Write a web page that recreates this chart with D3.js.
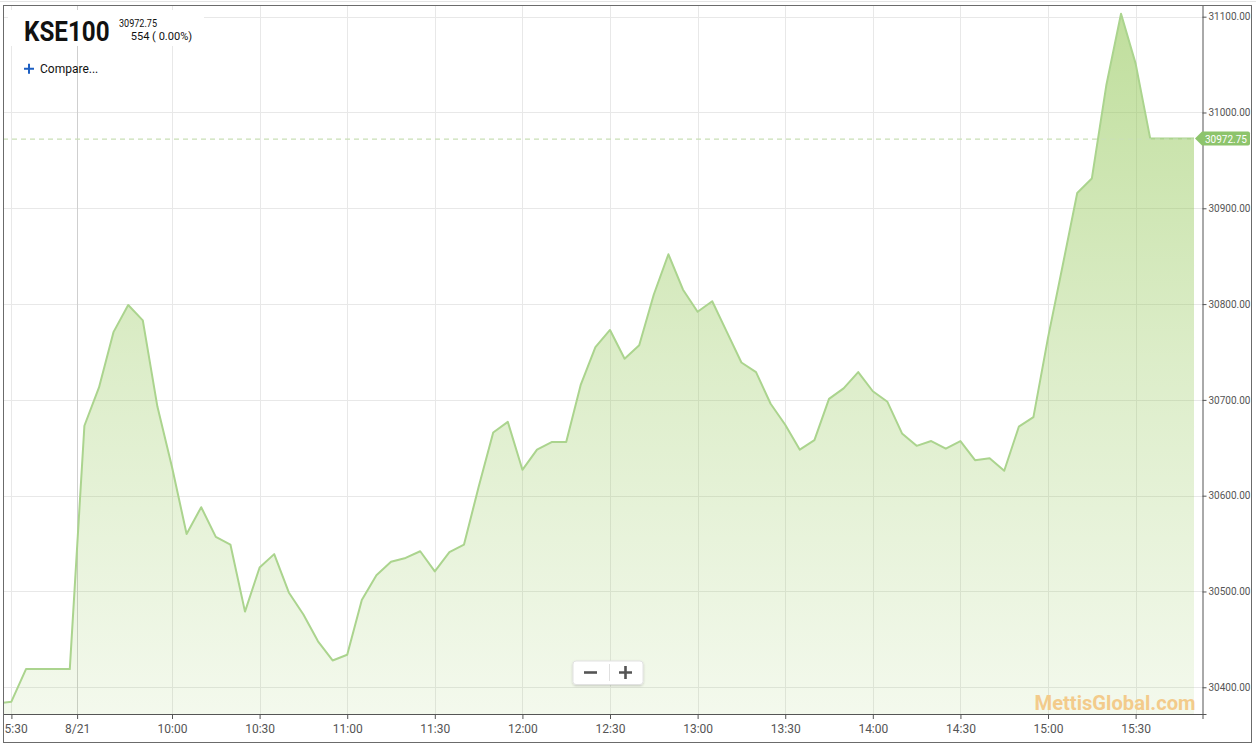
<!DOCTYPE html>
<html>
<head>
<meta charset="utf-8">
<script src="https://cdn.jsdelivr.net/npm/d3@7"></script>
<style>
  html, body { margin: 0; padding: 0; background: #fff; }
  svg { display: block; font-family: Roboto, "Noto Sans", sans-serif; }
</style>
</head>
<body>
<svg id="chart" width="1256" height="747"></svg>
<script>
// ---- data ----
const symbol = "KSE100";
const lastPrice = 30972.75;
const changeText = "554 ( 0.00%)";
// 5-minute closes; first value is the bar before the visible window (prev. day)
const firstIndex = -1;
const closeValues = [
  30383, 30385, 30419, 30419, 30419, 30419,
  30673, 30713, 30771, 30799, 30783, 30693, 30630, 30560, 30588, 30557,
  30549, 30479, 30525, 30539, 30499, 30476, 30448, 30428, 30434, 30491,
  30517, 30531, 30535, 30542, 30521, 30541, 30549, 30609, 30666, 30677,
  30627, 30648, 30656, 30656, 30716, 30755, 30773, 30743, 30757, 30810,
  30852, 30815, 30792, 30803, 30771, 30739, 30729, 30696, 30674, 30648,
  30658, 30701, 30712, 30729, 30709, 30698, 30665, 30652, 30657, 30649,
  30657, 30637, 30639, 30626, 30672, 30682, 30765, 30840, 30916, 30931,
  31029, 31103, 31051, 30972.75, 30972.75, 30972.75, 30972.75
];
const xTickIndex  = [0, 4.5, 11, 17, 23, 29, 35, 41, 47, 53, 59, 65, 71, 77];
// first label is shown cut at the frame edge in the reference ("5:30")
const xTickLabels = ["5:30", "8/21", "10:00", "10:30", "11:00", "11:30", "12:00",
                     "12:30", "13:00", "13:30", "14:00", "14:30", "15:00", "15:30"];
const dayBreakIndex = 4.5;
const yTickValues = [30400, 30500, 30600, 30700, 30800, 30900, 31000, 31100];

// ---- layout ----
const plot = { left: 3, right: 1202.5, top: 5, bottom: 714 };
const svg = d3.select("#chart");

const data = closeValues.map((v, k) => ({ i: firstIndex + k, v }));

const x = d3.scaleLinear().domain([-0.575, 81.58]).range([plot.left, plot.right]);
const y = d3.scaleLinear().domain([30372.1, 31112.2]).range([plot.bottom, plot.top]);

const defs = svg.append("defs");
defs.append("clipPath").attr("id", "plotClip")
  .append("rect").attr("x", plot.left).attr("y", plot.top)
  .attr("width", plot.right - plot.left).attr("height", plot.bottom - plot.top);

const grad = defs.append("linearGradient").attr("id", "areaGrad")
  .attr("gradientUnits", "userSpaceOnUse")
  .attr("x1", 0).attr("x2", 0).attr("y1", plot.top).attr("y2", plot.bottom);
grad.append("stop").attr("offset", 0).attr("stop-color", "#8bc34a").attr("stop-opacity", 0.55);
grad.append("stop").attr("offset", 0.5).attr("stop-color", "#8bc34a").attr("stop-opacity", 0.3);
grad.append("stop").attr("offset", 1).attr("stop-color", "#8bc34a").attr("stop-opacity", 0.1);

const shadow = defs.append("filter").attr("id", "shadow").attr("x", "-20%").attr("y", "-30%")
  .attr("width", "140%").attr("height", "170%");
shadow.append("feDropShadow").attr("dx", 0).attr("dy", 1).attr("stdDeviation", 1.2)
  .attr("flood-color", "#000").attr("flood-opacity", 0.18);

// ---- grid ----
const grid = svg.append("g");
grid.selectAll("line.h").data(yTickValues).join("line")
  .attr("x1", plot.left).attr("x2", plot.right)
  .attr("y1", d => Math.round(y(d)) + 0.5).attr("y2", d => Math.round(y(d)) + 0.5)
  .attr("stroke", "#e8e8e8");
grid.selectAll("line.v").data(xTickIndex).join("line")
  .attr("x1", d => Math.round(x(d)) + 0.5).attr("x2", d => Math.round(x(d)) + 0.5)
  .attr("y1", plot.top).attr("y2", plot.bottom)
  .attr("stroke", d => d === dayBreakIndex ? "#cfcfcf" : "#e8e8e8");

// ---- area + line ----
const series = svg.append("g").attr("clip-path", "url(#plotClip)");
series.append("path").datum(data)
  .attr("fill", "url(#areaGrad)")
  .attr("d", d3.area().x(d => x(d.i)).y0(plot.bottom).y1(d => y(d.v)));
series.append("path").datum(data)
  .attr("fill", "none").attr("stroke", "#abd48e").attr("stroke-width", 2)
  .attr("stroke-linejoin", "round")
  .attr("d", d3.line().x(d => x(d.i)).y(d => y(d.v)));

// last price dashed line
svg.append("line")
  .attr("x1", plot.left).attr("x2", x(data[data.length - 1].i))
  .attr("y1", y(lastPrice) + 0.5).attr("y2", y(lastPrice) + 0.5)
  .attr("stroke", "#c9dfb6").attr("stroke-width", 1.2).attr("stroke-dasharray", "5,4");

// ---- axes ----
const xAxis = d3.axisBottom(x).tickValues(xTickIndex)
  .tickFormat((d, k) => xTickLabels[k]).tickSize(5).tickPadding(5);
const gx = svg.append("g").attr("transform", `translate(0,${plot.bottom})`).call(xAxis);
gx.select(".domain").attr("stroke", "#555");
gx.selectAll(".tick line").attr("stroke", "#555");
gx.selectAll(".tick text").attr("fill", "#555").attr("font-size", 12)
  .attr("font-family", "Roboto, sans-serif");
// first (cut) label sits flush against the frame edge
gx.selectAll(".tick text").filter((d, k) => k === 0)
  .attr("text-anchor", "start").attr("x", 4 - x(0));

const yAxis = d3.axisRight(y).tickValues(yTickValues)
  .tickFormat(d3.format(".2f")).tickSize(4).tickPadding(2);
const gy = svg.append("g").attr("transform", `translate(${plot.right},0)`).call(yAxis);
gy.select(".domain").attr("stroke", "#555");
gy.selectAll(".tick line").attr("stroke", "#555");
gy.selectAll(".tick text").attr("fill", "#555").attr("font-size", 10)
  .attr("font-family", "Roboto, sans-serif");

// price tag
const ty = y(lastPrice);
svg.append("path")
  .attr("d", `M1195,${ty} L1202,${ty - 7} L1248,${ty - 7} Q1250,${ty - 7} 1250,${ty - 5} L1250,${ty + 5} Q1250,${ty + 7} 1248,${ty + 7} L1202,${ty + 7} Z`)
  .attr("fill", "#8dc46c");
svg.append("text").attr("x", 1205).attr("y", ty + 4)
  .attr("fill", "#fff").attr("font-size", 10).text(d3.format(".2f")(lastPrice));

// ---- frame ----
svg.append("rect").attr("x", 3.5).attr("y", 5.5).attr("width", 1248).attr("height", 737)
  .attr("fill", "none").attr("stroke", "#6b6b6b");
svg.append("line").attr("x1", 0).attr("x2", 1256).attr("y1", 1.5).attr("y2", 1.5)
  .attr("stroke", "#e4e4e4");

// ---- title block ----
svg.append("rect").attr("x", 8).attr("y", 10).attr("width", 196).attr("height", 36).attr("fill", "#fff");
svg.append("text").attr("transform", "translate(24,40.5) scale(0.865,1)")
  .attr("font-size", 28).attr("font-weight", 700).attr("fill", "#111").text(symbol);
svg.append("text").attr("x", 119).attr("y", 27.3).attr("font-size", 10).attr("fill", "#111")
  .attr("textLength", 38).attr("lengthAdjust", "spacingAndGlyphs").text(d3.format(".2f")(lastPrice));
svg.append("text").attr("x", 130.7).attr("y", 40).attr("font-size", 10.5).attr("fill", "#111")
  .attr("textLength", 61.5).attr("lengthAdjust", "spacingAndGlyphs").text(changeText);

// compare
svg.append("path").attr("d", "M24,68.8 H34 M29,63.8 V73.8")
  .attr("stroke", "#1d5fc2").attr("stroke-width", 2);
svg.append("text").attr("x", 40).attr("y", 73).attr("font-size", 12).attr("fill", "#111")
  .text("Compare...");

// zoom control
svg.append("rect").attr("x", 573).attr("y", 661).attr("width", 70).attr("height", 23.5)
  .attr("rx", 3).attr("fill", "#fff").attr("stroke", "#e2e2e2").attr("filter", "url(#shadow)");
svg.append("line").attr("x1", 609.5).attr("x2", 609.5).attr("y1", 664).attr("y2", 681)
  .attr("stroke", "#e0e0e0");
svg.append("path").attr("d", "M584,672.5 H597").attr("stroke", "#555").attr("stroke-width", 2.6);
svg.append("path").attr("d", "M619,672.5 H632 M625.5,666 V679").attr("stroke", "#555").attr("stroke-width", 2.6);

// watermark
svg.append("text").attr("x", 1195.5).attr("y", 709.5).attr("text-anchor", "end")
  .attr("font-size", 20).attr("font-weight", 700).attr("fill", "#f3cb8b")
  .attr("textLength", 161).attr("lengthAdjust", "spacingAndGlyphs").text("MettisGlobal.com");
</script>
</body>
</html>
